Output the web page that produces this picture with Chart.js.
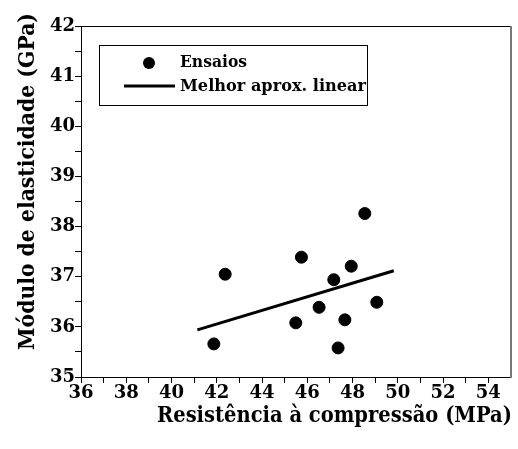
<!DOCTYPE html>
<html>
<head>
<meta charset="utf-8">
<title>Módulo de elasticidade x Resistência à compressão</title>
<script src="https://cdn.jsdelivr.net/npm/chart.js@4.4.1/dist/chart.umd.min.js"></script>
<style>
  html, body { margin: 0; padding: 0; background: #fff; }
  #grafico { display: block; }
</style>
</head>
<body>
<canvas id="grafico" width="518" height="449"></canvas>
<script>
// ---------------------------------------------------------
// DADOS
const compressao = [41.87, 42.37, 45.74, 45.49, 46.52, 47.17, 47.36, 47.66, 47.94, 48.54, 49.07];
const modulo     = [35.66, 37.05, 37.39, 36.08, 36.39, 36.94, 35.58, 36.14, 37.21, 38.26, 36.49];
const ajusteX = [41.14, 49.82];
const ajusteY = [35.94, 37.12];

const xTitulo = "Resistência à compressão (MPa)";
const yTitulo = "Módulo de elasticidade (GPa)";
const rotulos = ["Ensaios", "Melhor aprox. linear"];

const FONTE = "'DejaVu Serif', 'Liberation Serif', serif";

// escreve um texto ajustado a uma largura (fonte larga tipo Bookman)
function textoAjustado(ctx, txt, x, y, largura) {
  const w = ctx.measureText(txt).width;
  ctx.save();
  ctx.translate(x, y);
  ctx.scale(largura / w, 1);
  ctx.fillText(txt, 0, 0);
  ctx.restore();
}

// ---------------------------------------------------------
// PLUGIN: moldura (topo / direita), títulos dos eixos e legenda
const extras = {
  id: "extras",
  afterDraw(chart) {
    const { ctx, chartArea: a } = chart;
    ctx.save();

    // moldura superior e direita
    ctx.strokeStyle = "#000";
    ctx.lineWidth = 1;
    ctx.beginPath();
    ctx.moveTo(a.left, a.top + 0.5);
    ctx.lineTo(a.right, a.top + 0.5);
    ctx.stroke();
    ctx.strokeStyle = "#777";
    ctx.lineWidth = 2;
    ctx.beginPath();
    ctx.moveTo(a.right, a.top);
    ctx.lineTo(a.right, a.bottom + 1);
    ctx.stroke();

    // títulos dos eixos
    ctx.fillStyle = "#000";
    ctx.font = "bold 22px " + FONTE;
    ctx.textAlign = "left";
    ctx.textBaseline = "alphabetic";
    textoAjustado(ctx, xTitulo, 157, 422, 355);

    ctx.save();
    ctx.translate(34, 350);
    ctx.rotate(-Math.PI / 2);
    textoAjustado(ctx, yTitulo, 0, 0, 337);
    ctx.restore();

    // legenda
    ctx.strokeStyle = "#000";
    ctx.lineWidth = 1;
    ctx.strokeRect(99.5, 45.5, 268, 60);
    ctx.beginPath();
    ctx.arc(149, 63, 6, 0, Math.PI * 2);
    ctx.fill();
    ctx.lineWidth = 3;
    ctx.beginPath();
    ctx.moveTo(124, 86);
    ctx.lineTo(175, 86);
    ctx.stroke();
    ctx.font = "bold 16px " + FONTE;
    ctx.textBaseline = "middle";
    textoAjustado(ctx, rotulos[0], 180, 63, 67);
    textoAjustado(ctx, rotulos[1], 180, 87, 186);

    ctx.restore();
  }
};

// ---------------------------------------------------------
// GRÁFICO
const pontos = compressao.map((x, i) => ({ x, y: modulo[i] }));
const reta = ajusteX.map((x, i) => ({ x, y: ajusteY[i] }));

new Chart(document.getElementById("grafico"), {
  type: "scatter",
  data: {
    datasets: [
      {
        label: rotulos[0],
        data: pontos,
        backgroundColor: "#000",
        borderColor: "#000",
        pointRadius: 6,
        pointHoverRadius: 6,
      },
      {
        type: "line",
        label: rotulos[1],
        data: reta,
        borderColor: "#000",
        borderWidth: 3,
        pointRadius: 0,
        fill: false,
      },
    ],
  },
  options: {
    responsive: false,
    animation: false,
    events: [],
    layout: { padding: { top: 26, right: 6, left: 0, bottom: 0 } },
    plugins: { legend: { display: false }, tooltip: { enabled: false } },
    scales: {
      x: {
        type: "linear",
        min: 36,
        max: 55,
        afterFit: (s) => { s.height = 72; },
        border: { color: "#000", width: 1 },
        grid: {
          drawOnChartArea: false,
          tickLength: 6,
          tickColor: (c) => (c.tick && c.tick.value === 55 ? "rgba(0,0,0,0)" : "#000"),
        },
        ticks: {
          stepSize: 1,
          autoSkip: false,
          maxRotation: 0,
          padding: 0,
          color: "#000",
          font: { family: FONTE, size: 18, weight: "bold" },
          callback: (v) => (v % 2 === 0 && v <= 54 ? v : ""),
        },
      },
      y: {
        type: "linear",
        min: 35,
        max: 42,
        afterFit: (s) => { s.width = 81; },
        border: { color: "#000", width: 1 },
        grid: { drawOnChartArea: false, tickLength: 6, tickColor: "#000" },
        ticks: {
          stepSize: 0.5,
          autoSkip: false,
          padding: 0,
          color: "#000",
          font: { family: FONTE, size: 18, weight: "bold" },
          callback: (v) => (Number.isInteger(v) ? v : ""),
        },
      },
    },
  },
  plugins: [extras],
});
</script>
</body>
</html>
